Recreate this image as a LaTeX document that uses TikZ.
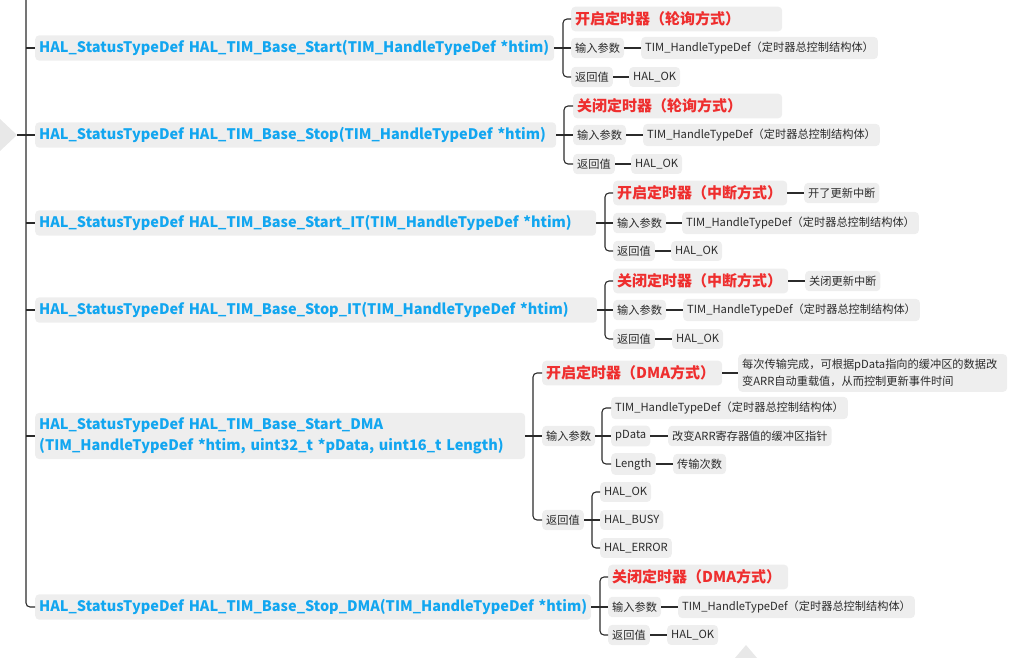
\documentclass[tikz,border=0pt]{standalone}
\usepackage{fontspec}
\setmainfont{Noto Sans CJK SC}
\definecolor{boxgray}{HTML}{EEEEEE}
\definecolor{markgray}{HTML}{E8E8E8}
\definecolor{funcblue}{HTML}{12A6F0}
\definecolor{titlered}{HTML}{EE2E2E}
\definecolor{ink}{HTML}{2B2B2B}
\tikzset{
  pill/.style={fill=boxgray, rounded corners=4pt, anchor=west, inner xsep=4pt, inner ysep=5pt, align=left},
  func/.style={pill, text=funcblue, font=\bfseries\fontsize{14.5}{21}\selectfont, text width=#1},
  headline/.style={pill, text=titlered, font=\bfseries\fontsize{15}{18}\selectfont, text width=#1},
  leaf/.style={pill, text=ink, font=\fontsize{11.2}{17}\selectfont},
  link/.style={draw=ink, line width=1.1pt, rounded corners=4pt}
}
\begin{document}
\begin{tikzpicture}[x=1pt,y=-1pt]
  \useasboundingbox (0,0) rectangle (1017,658);
  % collapse markers
  \coordinate (root) at (17,135);
  \coordinate (top) at (26,0);
  \fill[markgray] (0,119) -- (root) -- (0,151) -- cycle;
  \fill[markgray] (735,658) -- (746,645) -- (757,658) -- cycle;

  % functions
  \node[func=511pt] (f1) at (35,48) {HAL\_StatusTypeDef HAL\_TIM\_Base\_Start(TIM\_HandleTypeDef *htim)};
  \node[func=513pt] (f2) at (35,135) {HAL\_StatusTypeDef HAL\_TIM\_Base\_Stop(TIM\_HandleTypeDef *htim)};
  \node[func=553pt] (f3) at (35,223) {HAL\_StatusTypeDef HAL\_TIM\_Base\_Start\_IT(TIM\_HandleTypeDef *htim)};
  \node[func=554pt] (f4) at (35,310) {HAL\_StatusTypeDef HAL\_TIM\_Base\_Stop\_IT(TIM\_HandleTypeDef *htim)};
  \node[func=482pt] (f5) at (35,436) {HAL\_StatusTypeDef HAL\_TIM\_Base\_Start\_DMA\\(TIM\_HandleTypeDef *htim, uint32\_t *pData, uint16\_t Length)};
  \node[func=548pt] (f6) at (35,607) {HAL\_StatusTypeDef HAL\_TIM\_Base\_Stop\_DMA(TIM\_HandleTypeDef *htim)};

  % Start
  \coordinate (k1) at (563,48);
  \node[headline=203pt] (s1) at (571,19) {开启定时器（轮询方式）};
  \node[leaf] (s1in) at (571,48) {输入参数};
  \node[leaf] (s1inv) at (641,48) {TIM\_HandleTypeDef（定时器总控制结构体）};
  \node[leaf] (s1out) at (571,77) {返回值};
  \node[leaf] (s1outv) at (629,77) {HAL\_OK};

  % Stop
  \coordinate (k2) at (564,135);
  \node[headline=201pt] (s2) at (573,106) {关闭定时器（轮询方式）};
  \node[leaf] (s2in) at (573,135) {输入参数};
  \node[leaf] (s2inv) at (643,135) {TIM\_HandleTypeDef（定时器总控制结构体）};
  \node[leaf] (s2out) at (573,164) {返回值};
  \node[leaf] (s2outv) at (631,164) {HAL\_OK};

  % Start_IT
  \coordinate (k3) at (605,223);
  \node[headline=166pt] (s3) at (613,193) {开启定时器（中断方式）};
  \node[leaf] (s3note) at (804,193) {开了更新中断};
  \node[leaf] (s3in) at (613,223) {输入参数};
  \node[leaf] (s3inv) at (682,223) {TIM\_HandleTypeDef（定时器总控制结构体）};
  \node[leaf] (s3out) at (613,251) {返回值};
  \node[leaf] (s3outv) at (671,251) {HAL\_OK};

  % Stop_IT
  \coordinate (k4) at (605,310);
  \node[headline=167pt] (s4) at (613,281) {关闭定时器（中断方式）};
  \node[leaf] (s4note) at (805,281) {关闭更新中断};
  \node[leaf] (s4in) at (613,310) {输入参数};
  \node[leaf] (s4inv) at (683,310) {TIM\_HandleTypeDef（定时器总控制结构体）};
  \node[leaf] (s4out) at (613,339) {返回值};
  \node[leaf] (s4outv) at (672,339) {HAL\_OK};

  % Start_DMA
  \coordinate (k5) at (533,436);
  \node[headline=172pt] (s5) at (542,373) {开启定时器（DMA方式）};
  \node[leaf, text width=261pt] (s5note) at (738,373) {每次传输完成，可根据pData指向的缓冲区的数据改\\变ARR自动重载值，从而控制更新事件时间};
  \node[leaf] (s5in) at (542,436) {输入参数};
  \coordinate (k5in) at (602,436);
  \node[leaf] (p1) at (611,408) {TIM\_HandleTypeDef（定时器总控制结构体）};
  \node[leaf] (p2) at (611,436) {pData};
  \node[leaf] (p2v) at (668,436) {改变ARR寄存器值的缓冲区指针};
  \node[leaf] (p3) at (611,464) {Length};
  \node[leaf] (p3v) at (673,464) {传输次数};
  \node[leaf] (s5out) at (542,520) {返回值};
  \coordinate (k5out) at (592,520);
  \node[leaf] (r1) at (600,492) {HAL\_OK};
  \node[leaf] (r2) at (600,520) {HAL\_BUSY};
  \node[leaf] (r3) at (600,548) {HAL\_ERROR};

  % Stop_DMA
  \coordinate (k6) at (600,607);
  \node[headline=172pt] (s6) at (608,577) {关闭定时器（DMA方式）};
  \node[leaf] (s6in) at (608,607) {输入参数};
  \node[leaf] (s6inv) at (678,607) {TIM\_HandleTypeDef（定时器总控制结构体）};
  \node[leaf] (s6out) at (608,635) {返回值};
  \node[leaf] (s6outv) at (667,635) {HAL\_OK};

  \begin{scope}[link]
    % spine
    \draw (top) |- (f6.west);
    \draw (root) -- (f2.west);
    \draw (top |- f1.west) -- (f1.west);
    \draw (top |- f3.west) -- (f3.west);
    \draw (top |- f4.west) -- (f4.west);
    \draw (top |- f5.west) -- (f5.west);
    % Start
    \draw (f1.east) -- (k1) -- (s1in.west);
    \draw (k1) |- (s1.west);
    \draw (k1) |- (s1out.west);
    \draw (s1in) -- (s1inv);
    \draw (s1out) -- (s1outv);
    % Stop
    \draw (f2.east) -- (k2) -- (s2in.west);
    \draw (k2) |- (s2.west);
    \draw (k2) |- (s2out.west);
    \draw (s2in) -- (s2inv);
    \draw (s2out) -- (s2outv);
    % Start_IT
    \draw (f3.east) -- (k3) -- (s3in.west);
    \draw (k3) |- (s3.west);
    \draw (k3) |- (s3out.west);
    \draw (s3) -- (s3note);
    \draw (s3in) -- (s3inv);
    \draw (s3out) -- (s3outv);
    % Stop_IT
    \draw (f4.east) -- (k4) -- (s4in.west);
    \draw (k4) |- (s4.west);
    \draw (k4) |- (s4out.west);
    \draw (s4) -- (s4note);
    \draw (s4in) -- (s4inv);
    \draw (s4out) -- (s4outv);
    % Start_DMA
    \draw (f5.east) -- (k5) -- (s5in.west);
    \draw (k5) |- (s5.west);
    \draw (k5) |- (s5out.west);
    \draw (s5) -- (s5note);
    \draw (s5in) -- (k5in) -- (p2.west);
    \draw (k5in) |- (p1.west);
    \draw (k5in) |- (p3.west);
    \draw (p2) -- (p2v);
    \draw (p3) -- (p3v);
    \draw (s5out) -- (k5out) -- (r2.west);
    \draw (k5out) |- (r1.west);
    \draw (k5out) |- (r3.west);
    % Stop_DMA
    \draw (f6.east) -- (k6) -- (s6in.west);
    \draw (k6) |- (s6.west);
    \draw (k6) |- (s6out.west);
    \draw (s6in) -- (s6inv);
    \draw (s6out) -- (s6outv);
  \end{scope}
\end{tikzpicture}
\end{document}
